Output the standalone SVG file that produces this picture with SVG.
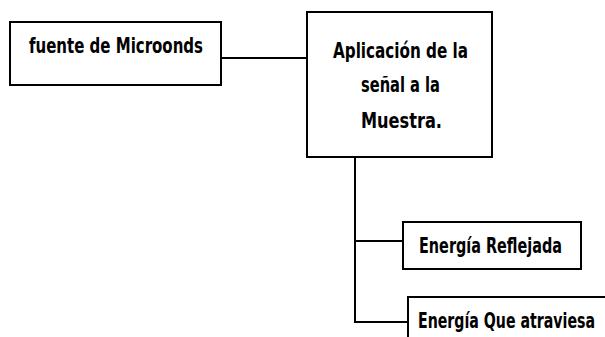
<svg xmlns="http://www.w3.org/2000/svg" width="605" height="337" viewBox="0 0 605 337">
<style>
.box{fill:#fff;stroke:#000;stroke-width:2}
.ln{fill:none;stroke:#000;stroke-width:2}
.t{font-family:"DejaVu Sans Condensed","DejaVu Sans",sans-serif;font-weight:bold;font-size:21px;fill:#000}
</style>
<rect width="605" height="337" fill="#fff"/>
<g id="connectors">
<path class="ln" d="M221,58 H307"/>
<path class="ln" d="M355,157 V322 H408"/>
<path class="ln" d="M355,241 H403"/>
</g>
<g id="fuente">
<rect class="box" x="10" y="22" width="211" height="63"/>
<text class="t" x="29" y="53" textLength="174" lengthAdjust="spacingAndGlyphs">fuente de Microonds</text>
</g>
<g id="aplicacion">
<rect class="box" x="307" y="12" width="185" height="145"/>
<text class="t" x="333" y="58" textLength="135" lengthAdjust="spacingAndGlyphs">Aplicación de la</text>
<text class="t" x="361" y="92" textLength="79" lengthAdjust="spacingAndGlyphs">señal a la</text>
<text class="t" x="361" y="128" textLength="81" lengthAdjust="spacingAndGlyphs">Muestra.</text>
</g>
<g id="reflejada">
<rect class="box" x="403" y="222" width="178" height="47"/>
<text class="t" x="419" y="253" textLength="143" lengthAdjust="spacingAndGlyphs">Energía Reflejada</text>
</g>
<g id="atraviesa">
<path class="box" d="M606,297 H408 V338"/>
<text class="t" transform="translate(418,328) scale(0.75,1)" x="0" y="0" textLength="236" lengthAdjust="spacingAndGlyphs">Energía Que atraviesa</text>
</g>
</svg>
